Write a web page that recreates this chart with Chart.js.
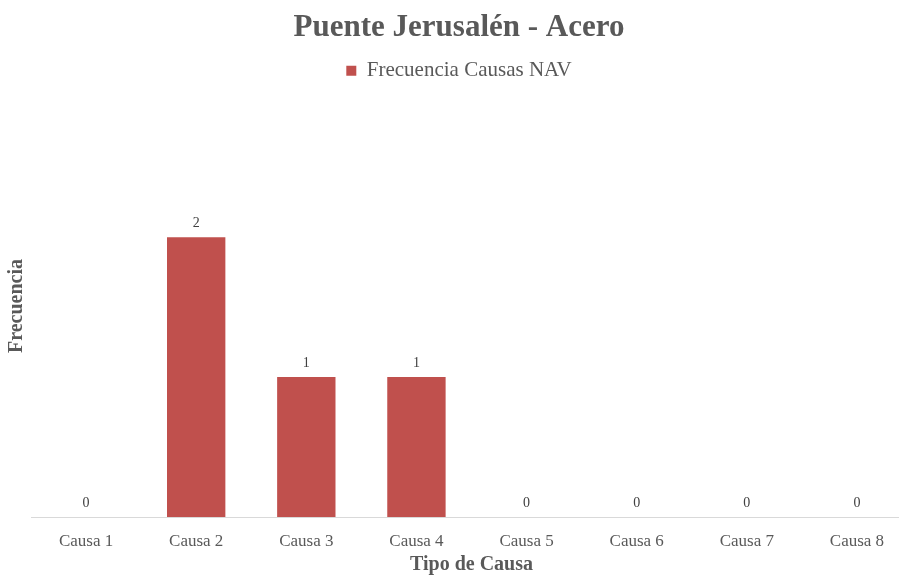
<!DOCTYPE html>
<html>
<head>
<meta charset="utf-8">
<script src="https://cdn.jsdelivr.net/npm/chart.js@4"></script>
<style>
  html, body { margin: 0; padding: 0; overflow: hidden; background: #fff; }
  #wrap { width: 912px; height: 576px; }
</style>
</head>
<body>
<div id="wrap"><canvas id="grafico"></canvas></div>
<script>
// --- Datos ---
const categorias = ["Causa 1", "Causa 2", "Causa 3", "Causa 4", "Causa 5", "Causa 6", "Causa 7", "Causa 8"];
const frecuencias = [0, 2, 1, 1, 0, 0, 0, 0];
const serie = "Frecuencia Causas NAV";

const fuente = "'Liberation Serif', 'Times New Roman', serif";
const gris = "#595959";

// --- Etiquetas sobre las barras ---
const etiquetas = {
  id: "etiquetas",
  afterDatasetsDraw(chart) {
    const ctx = chart.ctx;
    const meta = chart.getDatasetMeta(0);
    ctx.save();
    ctx.font = "14px " + fuente;
    ctx.fillStyle = "#404040";
    ctx.textAlign = "center";
    ctx.textBaseline = "bottom";
    meta.data.forEach((bar, i) => {
      ctx.fillText(String(frecuencias[i]), bar.x, bar.y - 7);
    });
    ctx.restore();
  }
};

// --- Títulos de los ejes (posición como en Excel) ---
const titulosEjes = {
  id: "titulosEjes",
  afterDraw(chart) {
    const ctx = chart.ctx;
    const area = chart.chartArea;
    ctx.save();
    ctx.font = "bold 20px " + fuente;
    ctx.fillStyle = gris;
    ctx.textAlign = "center";
    ctx.textBaseline = "middle";
    ctx.fillText("Tipo de Causa", (area.left + area.right) / 2, 565);
    ctx.translate(17, 306);
    ctx.rotate(-Math.PI / 2);
    ctx.fillText("Frecuencia", 0, 0);
    ctx.restore();
  }
};

// --- Espacio bajo la leyenda ---
const espacioLeyenda = {
  id: "espacioLeyenda",
  beforeInit(chart) {
    const fit = chart.legend.fit;
    chart.legend.fit = function () {
      fit.bind(chart.legend)();
      this.height += 76;
    };
  }
};

new Chart(document.getElementById("grafico"), {
  type: "bar",
  data: {
    labels: categorias,
    datasets: [{
      label: serie,
      data: frecuencias,
      backgroundColor: "#C0504D",
      barPercentage: 0.53,
      categoryPercentage: 1
    }]
  },
  options: {
    responsive: true,
    maintainAspectRatio: false,
    animation: false,
    layout: { padding: { top: 9, right: 0, bottom: 0, left: 6 } },
    plugins: {
      title: {
        display: true,
        text: "Puente Jerusalén - Acero",
        color: gris,
        font: { family: fuente, size: 31, weight: "bold" },
        padding: { top: 0, bottom: 8 }
      },
      legend: {
        display: true,
        position: "top",
        labels: {
          color: gris,
          font: { family: fuente, size: 21 },
          boxWidth: 10,
          boxHeight: 10,
          padding: 6
        }
      },
      tooltip: { enabled: false }
    },
    scales: {
      x: {
        grid: { display: false, drawTicks: false },
        border: { display: true, color: "#D9D9D9", width: 1 },
        ticks: {
          color: gris,
          font: { family: fuente, size: 17, lineHeight: 1 },
          padding: 16,
          maxRotation: 0
        },
        title: { display: false },
        afterFit(scale) { scale.height = 59; }
      },
      y: {
        min: 0,
        max: 2.5,
        grid: { display: false },
        border: { display: false },
        ticks: { display: false },
        title: { display: false },
        afterFit(scale) { scale.width = 25; }
      }
    }
  },
  plugins: [etiquetas, titulosEjes, espacioLeyenda]
});
</script>
</body>
</html>
